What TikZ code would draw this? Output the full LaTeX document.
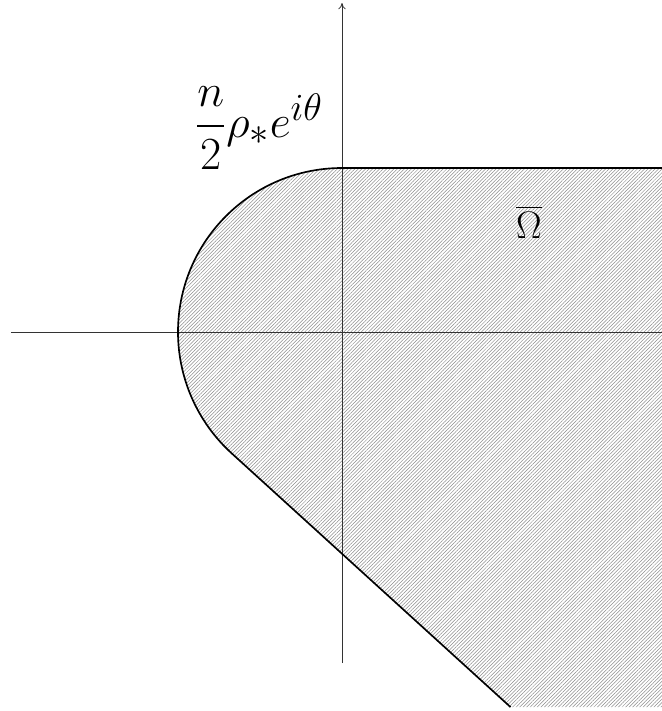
\documentclass[tikz,border=0pt]{standalone}
\usepackage{amsmath,amssymb}
\usepackage{tikz}
\usetikzlibrary{arrows.meta,patterns.meta,positioning,calc}

\begin{document}
\begin{tikzpicture}[x=0.019cm, y=0.019cm,
    axis/.style={-{To[length=1.2mm,width=1.4mm]}, line width=0.45pt, black!80},
    plainaxis/.style={line width=0.45pt, black!80},
    bdry/.style={line width=0.9pt, black},
    hatch/.style={pattern={Lines[angle=45,distance=1.35pt,line width=0.28pt]}, pattern color=black!45}
]
    \useasboundingbox (-342,-379) rectangle (320,332);

    % points of the region
    \coordinate (O) at (0,0);
    \coordinate (top) at (0,164);
    \coordinate (topright) at (320,164);
    \coordinate (botright) at (320,-375);
    \coordinate (tang) at (227.7:164);
    \coordinate (botend) at ($(tang)+(278.9,-253.8)$);

    % hatched region
    \fill[hatch] (top) -- (topright) -- (botright) -- (botend) -- (tang)
        arc[start angle=227.7, end angle=90, radius=164] -- cycle;

    % axes
    \coordinate (xl) at (-331,0);
    \coordinate (xr) at (320,0);
    \coordinate (yb) at (0,-331);
    \coordinate (yt) at (0,329);
    \draw[plainaxis] (xl) -- (xr);
    \draw[axis] (yb) -- (yt);

    % boundary
    \draw[bdry, line width=0.7pt] (topright) -- (top);
    \draw[bdry] (top) arc[start angle=90, end angle=227.7, radius=164] -- (botend);

    \node[font=\Huge] (circ) at (-83,204) {$\dfrac{n}{2}\rho_* e^{i\theta}$};
    \node[font=\huge] (omega) at (187,110) {$\overline{\Omega}$};
\end{tikzpicture}
\end{document}
